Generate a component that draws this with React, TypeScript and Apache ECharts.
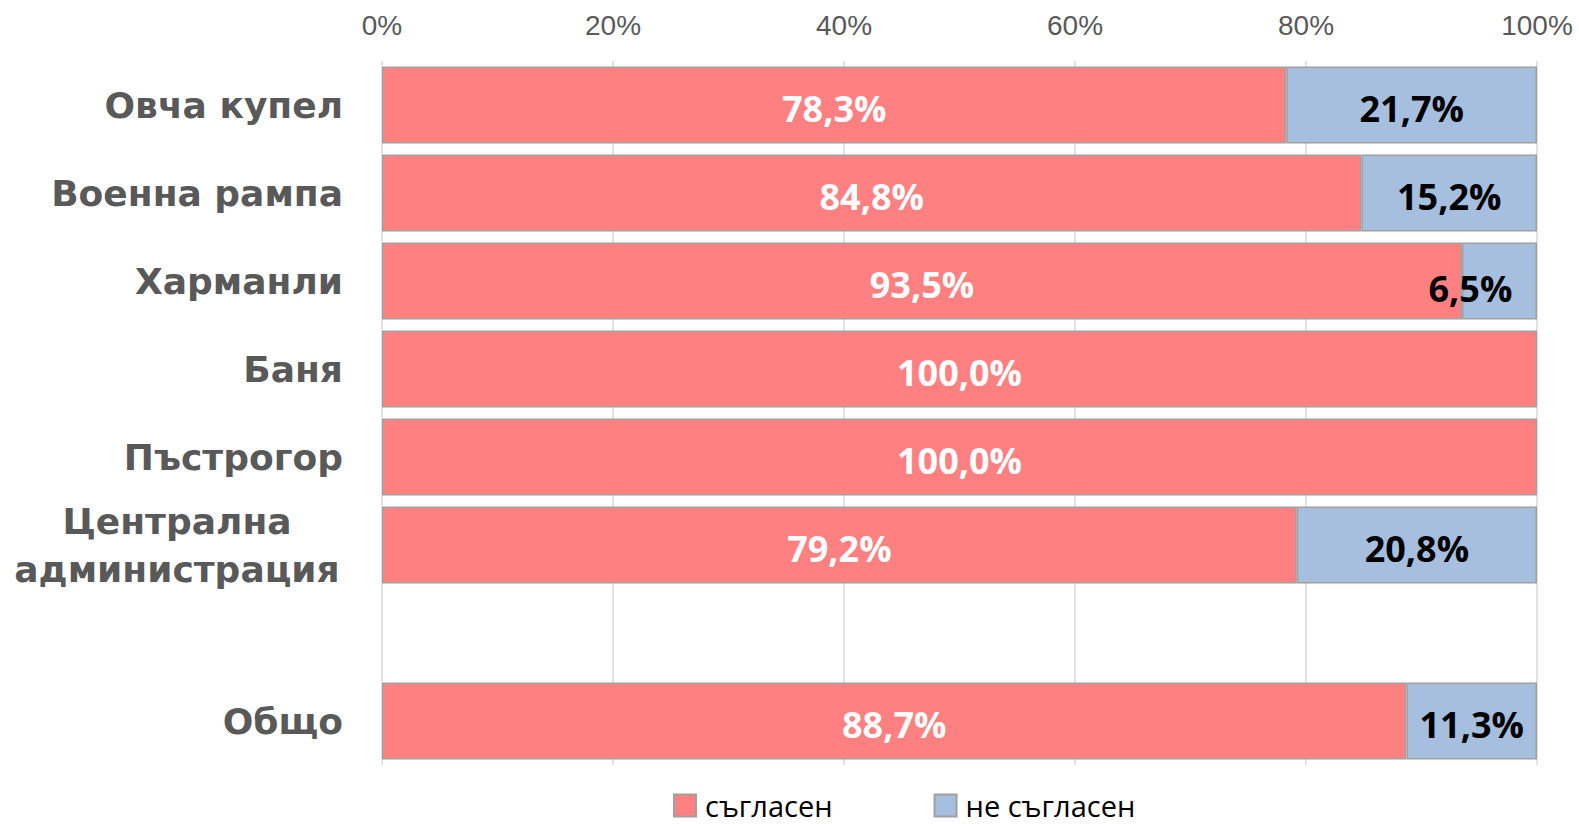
import React, { useEffect, useRef } from "react";
import * as echarts from "echarts";

const categories = [
  "Овча купел",
  "Военна рампа",
  "Харманли",
  "Баня",
  "Пъстрогор",
  "Централна\nадминистрация",
  "",
  "Общо",
];
const agreeValues: (number | null)[] = [78.3, 84.8, 93.5, 100.0, 100.0, 79.2, null, 88.7];
const disagreeValues: (number | null)[] = [21.7, 15.2, 6.5, 0, 0, 20.8, null, 11.3];
const xTicks = [0, 20, 40, 60, 80, 100];
const seriesNames = ["съгласен", "не съгласен"];

const fmt = (v: number) => v.toFixed(1).replace(".", ",") + "%";

export default function App() {
  const ref = useRef<HTMLDivElement>(null);
  useEffect(() => {
    if (!ref.current) return;
    const chart = echarts.init(ref.current, undefined, { renderer: "svg" });
    const labelBase = {
      show: true,
      position: "inside" as const,
      fontFamily: "Open Sans",
      fontWeight: "bold" as const,
      fontSize: 36,
      offset: [0, 3],
      formatter: (p: any) => (p.value && p.value > 0 ? fmt(p.value) : ""),
    };
    chart.setOption({
      animation: false,
      grid: { left: 382, right: 42, top: 61, bottom: 59, containLabel: false },
      legend: {
        left: 673,
        top: 791,
        itemWidth: 22,
        itemHeight: 22,
        itemGap: 101,
        padding: 0,
        textStyle: {
          fontFamily: "Open Sans",
          fontSize: 29,
          color: "#000",
          lineHeight: 24,
          padding: [0, 0, 0, 4],
        },
        data: seriesNames.map((n) => ({ name: n, icon: "rect" })),
      },
      xAxis: {
        type: "value",
        position: "top",
        min: xTicks[0],
        max: xTicks[xTicks.length - 1],
        interval: 20,
        axisLine: { show: false },
        axisTick: { show: false },
        splitLine: { show: true, lineStyle: { color: "#D9D9D9", width: 1.5 } },
        axisLabel: {
          formatter: "{value}%",
          fontFamily: "Liberation Sans",
          fontSize: 28,
          color: "#595959",
          margin: 22,
        },
      },
      yAxis: {
        type: "category",
        inverse: true,
        data: categories,
        axisLine: { show: false },
        axisTick: { show: false },
        axisLabel: {
          margin: 39,
          fontFamily: "DejaVu Sans",
          fontWeight: "bold",
          fontSize: 36,
          color: "#595959",
          lineHeight: 48,
          formatter: (v: string) =>
            v.indexOf("\n") >= 0
              ? v
                  .split("\n")
                  .map((s) => "{c|" + s + "}")
                  .join("\n")
              : v,
          rich: {
            c: {
              width: 332,
              align: "center",
              fontFamily: "DejaVu Sans",
              fontWeight: "bold",
              fontSize: 36,
              color: "#595959",
              lineHeight: 48,
            },
          },
        },
      },
      series: [
        {
          name: seriesNames[0],
          type: "bar",
          stack: "total",
          barCategoryGap: "12.5%",
          itemStyle: { color: "#FF8080", borderColor: "#A0A0A0", borderWidth: 1.5 },
          label: { ...labelBase, color: "#FFFFFF" },
          data: agreeValues.map((v) => (v === null ? "-" : v)),
        },
        {
          name: seriesNames[1],
          type: "bar",
          stack: "total",
          barCategoryGap: "12.5%",
          itemStyle: { color: "#A7BFDE", borderColor: "#A0A0A0", borderWidth: 1.5 },
          label: { ...labelBase, color: "#000000" },
          data: disagreeValues.map((v, i) =>
            v === null || v === 0
              ? "-"
              : i === 2
              ? { value: v, label: { offset: [-29, 7] } }
              : v
          ),
        },
      ],
    });
    return () => chart.dispose();
  }, []);
  return <div ref={ref} style={{ width: 1579, height: 824, position: "absolute", left: 0, top: 0 }} />;
}
